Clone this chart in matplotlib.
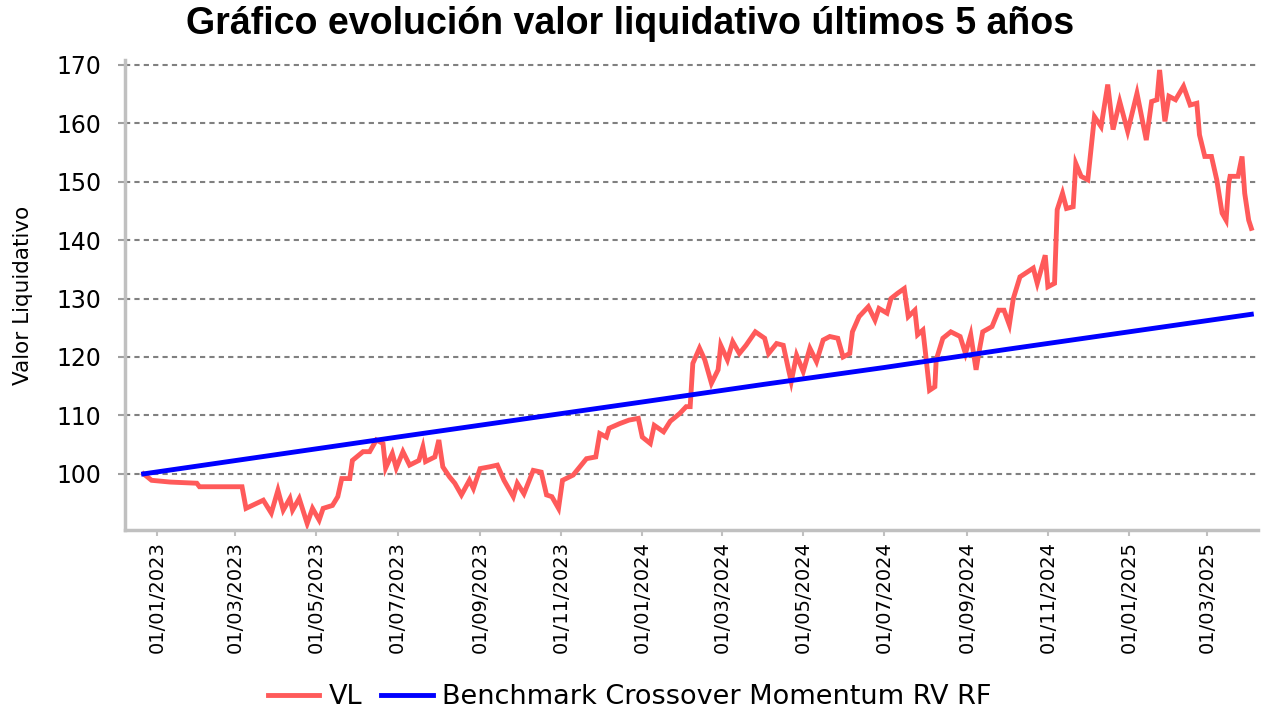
import matplotlib
matplotlib.use('Agg')
import matplotlib.pyplot as plt
import matplotlib.dates as mdates
import numpy as np

# Valor liquidativo (VL)
vl_fechas = [
    '2022-12-22', '2022-12-28', '2023-01-11', '2023-01-31', '2023-02-02', '2023-03-06',
    '2023-03-09', '2023-03-22', '2023-03-28', '2023-04-02', '2023-04-06', '2023-04-11',
    '2023-04-13', '2023-04-18', '2023-04-24', '2023-04-28', '2023-05-03', '2023-05-06',
    '2023-05-13', '2023-05-17', '2023-05-20', '2023-05-26', '2023-05-28', '2023-06-05',
    '2023-06-10', '2023-06-15', '2023-06-20', '2023-06-22', '2023-06-27', '2023-06-30',
    '2023-07-05', '2023-07-10', '2023-07-17', '2023-07-20', '2023-07-22', '2023-07-29',
    '2023-08-01', '2023-08-04', '2023-08-09', '2023-08-13', '2023-08-18', '2023-08-24',
    '2023-08-27', '2023-09-01', '2023-09-08', '2023-09-14', '2023-09-19', '2023-09-26',
    '2023-09-29', '2023-10-04', '2023-10-11', '2023-10-17', '2023-10-21', '2023-10-25',
    '2023-10-30', '2023-11-02', '2023-11-10', '2023-11-15', '2023-11-20', '2023-11-27',
    '2023-11-30', '2023-12-05', '2023-12-07', '2023-12-15', '2023-12-22', '2023-12-29',
    '2024-01-01', '2024-01-07', '2024-01-10', '2024-01-17', '2024-01-22', '2024-01-29',
    '2024-02-03', '2024-02-06', '2024-02-08', '2024-02-13', '2024-02-17', '2024-02-22',
    '2024-02-27', '2024-02-29', '2024-03-05', '2024-03-09', '2024-03-14', '2024-03-19',
    '2024-03-26', '2024-04-02', '2024-04-05', '2024-04-11', '2024-04-16', '2024-04-20',
    '2024-04-22', '2024-04-26', '2024-05-01', '2024-05-06', '2024-05-11', '2024-05-16',
    '2024-05-21', '2024-05-27', '2024-05-31', '2024-06-05', '2024-06-07', '2024-06-12',
    '2024-06-19', '2024-06-24', '2024-06-27', '2024-07-03', '2024-07-06', '2024-07-11',
    '2024-07-16', '2024-07-19', '2024-07-24', '2024-07-26', '2024-07-30', '2024-08-01',
    '2024-08-04', '2024-08-08', '2024-08-09', '2024-08-14', '2024-08-20', '2024-08-27',
    '2024-08-31', '2024-09-04', '2024-09-08', '2024-09-10', '2024-09-13', '2024-09-20',
    '2024-09-25', '2024-09-29', '2024-10-03', '2024-10-06', '2024-10-11', '2024-10-21',
    '2024-10-24', '2024-10-30', '2024-11-01', '2024-11-06', '2024-11-08', '2024-11-12',
    '2024-11-15', '2024-11-20', '2024-11-22', '2024-11-26', '2024-12-01', '2024-12-06',
    '2024-12-11', '2024-12-16', '2024-12-20', '2024-12-25', '2024-12-31', '2025-01-07',
    '2025-01-14', '2025-01-18', '2025-01-22', '2025-01-24', '2025-01-28', '2025-01-31',
    '2025-02-05', '2025-02-11', '2025-02-16', '2025-02-21', '2025-02-23', '2025-02-27',
    '2025-03-04', '2025-03-08', '2025-03-12', '2025-03-15', '2025-03-17', '2025-03-18',
    '2025-03-24', '2025-03-27', '2025-03-29', '2025-04-01', '2025-04-03',
]
vl_valores = [
    100.0, 98.9, 98.6, 98.4, 97.8, 97.8,
    94.1, 95.5, 93.3, 97.2, 93.8, 95.8,
    93.8, 95.8, 91.5, 94.1, 92.1, 94.1,
    94.6, 96.1, 99.2, 99.2, 102.3, 103.8,
    103.8, 105.8, 105.2, 101.0, 103.5, 101.0,
    103.8, 101.5, 102.3, 104.6, 102.1, 102.9,
    105.8, 101.2, 99.5, 98.4, 96.4, 98.9,
    97.5, 100.9, 101.2, 101.5, 98.9, 96.1,
    98.4, 96.6, 100.6, 100.3, 96.4, 96.1,
    94.1, 98.9, 99.8, 101.2, 102.6, 102.9,
    106.9, 106.3, 107.8, 108.6, 109.2, 109.5,
    106.3, 105.2, 108.3, 107.2, 109.0, 110.3,
    111.5, 111.5, 118.9, 121.5, 119.5, 115.5,
    117.8, 122.0, 119.5, 122.6, 120.6, 122.0,
    124.3, 123.2, 120.6, 122.3, 122.0, 117.8,
    115.8, 120.3, 117.5, 121.5, 119.2, 122.9,
    123.5, 123.2, 120.0, 120.6, 124.3, 126.9,
    128.6, 126.3, 128.3, 127.5, 130.0, 130.9,
    131.7, 126.9, 128.0, 123.8, 124.6, 120.6,
    114.3, 114.9, 119.5, 123.2, 124.3, 123.5,
    120.6, 123.8, 117.8, 120.6, 124.3, 125.2,
    128.0, 128.0, 125.5, 130.0, 133.7, 135.2,
    132.6, 137.4, 132.0, 132.6, 145.2, 148.0,
    145.4, 145.7, 153.1, 150.9, 150.3, 161.1,
    159.4, 166.6, 158.9, 163.7, 158.6, 165.1,
    157.1, 163.7, 164.0, 169.1, 160.3, 164.6,
    164.0, 166.3, 163.1, 163.4, 158.0, 154.3,
    154.3, 150.3, 144.6, 143.4, 149.7, 150.9,
    150.9, 154.3, 148.0, 143.4, 142.0,
]

# Benchmark Crossover Momentum RV RF
bm_fechas = ['2022-12-22', '2023-04-01', '2023-07-01', '2023-10-01', '2024-01-01',
             '2024-04-01', '2024-07-01', '2024-10-01', '2025-01-01', '2025-04-03']
bm_valores = [100.0, 103.3, 106.3, 109.3, 112.3, 115.3, 118.2, 121.3, 124.3, 127.3]

y_ticks = [100, 110, 120, 130, 140, 150, 160, 170]

vl_x = np.array(vl_fechas, dtype='datetime64[D]')
bm_x = np.array(bm_fechas, dtype='datetime64[D]')

fig = plt.figure(figsize=(12.75, 7.13), dpi=100)
ax = fig.add_axes([125 / 1275, 1 - 530 / 713, (1258 - 125) / 1275, (530 - 60) / 713])

ax.plot(vl_x, vl_valores, color='#ff5a5a', lw=3.5, label='VL', solid_joinstyle='miter')
ax.plot(bm_x, bm_valores, color='#0000ff', lw=3.5, label='Benchmark Crossover Momentum RV RF')

ax.set_xlim(np.datetime64('2022-12-08'), np.datetime64('2025-04-08'))
ax.set_ylim(90.4, 170.8)
ax.set_yticks(y_ticks)

ax.xaxis.set_major_locator(mdates.MonthLocator(bymonth=[1, 3, 5, 7, 9, 11]))
ax.xaxis.set_major_formatter(mdates.DateFormatter('%d/%m/%Y'))
plt.setp(ax.get_xticklabels(), rotation=90)

ax.grid(axis='y', color='#808080', linestyle=(0, (2.5, 2)), lw=1.5)
ax.set_axisbelow(True)

for s in ['top', 'right']:
    ax.spines[s].set_visible(False)
for s in ['left', 'bottom']:
    ax.spines[s].set_color('#c0c0c0')
    ax.spines[s].set_linewidth(2.5)

ax.tick_params(axis='y', length=5, width=1.5, color='#a0a0a0', labelsize=17, pad=12)
ax.tick_params(axis='x', length=4, width=1.5, color='#c0c0c0', labelsize=14, pad=4)

ax.set_ylabel('Valor Liquidativo', fontsize=15.5)
ax.yaxis.set_label_coords(-0.081, 0.5)

fig.text(0.494, 0.966, 'Gráfico evolución valor liquidativo últimos 5 años',
         family='Liberation Sans', weight='bold', fontsize=27, ha='center', va='center')

fig.legend(loc='center', bbox_to_anchor=(0.494, 1 - 697.5 / 713), ncol=2, frameon=False,
           fontsize=19.5, handlelength=1.9, handletextpad=0.35, columnspacing=0.7)

fig.savefig('out.png', dpi=100)
